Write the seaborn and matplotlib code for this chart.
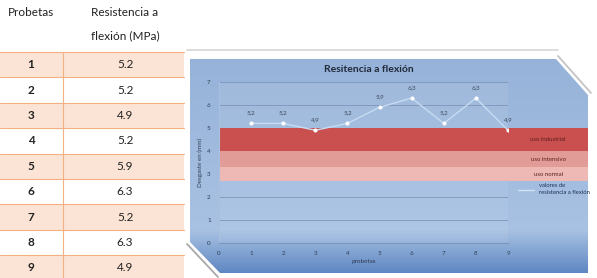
import numpy as np
import matplotlib.pyplot as plt
import seaborn as sns
from matplotlib.patches import Polygon

# datos de la tabla / grafico
probetas = [1, 2, 3, 4, 5, 6, 7, 8, 9]
resistencia = [5.2, 5.2, 4.9, 5.2, 5.9, 6.3, 5.2, 6.3, 4.9]
bandas = ["uso industrial", "uso intensivo", "uso normal"]
banda_lim = [(4.0, 5.0), (3.3, 4.0), (2.7, 3.3)]
banda_col = ["#C9504E", "#E29C97", "#EEB9B4"]

sns.set_style("white")
plt.rcParams["font.family"] = ["Lato", "DejaVu Sans"]

W, H = 597, 278
fig = plt.figure(figsize=(W / 100, H / 100), dpi=100)

def box(x0, y0, x1, y1):
    return [x0 / W, 1 - y1 / H, (x1 - x0) / W, (y1 - y0) / H]

# capa en pixeles para tabla y marco
ov = fig.add_axes([0, 0, 1, 1], zorder=0)
ov.set_xlim(0, W)
ov.set_ylim(H, 0)
ov.axis("off")

# tabla
top, rh, tw, div = 52, 25.4, 184, 63
for i, (p, r) in enumerate(zip(probetas, resistencia)):
    y0 = top + i * rh
    if i % 2 == 0:
        ov.fill_between([0, tw], y0, y0 + rh, color="#FBE4D5", lw=0)
    ov.plot([0, tw], [y0, y0], color="#F4B083", lw=0.8)
    ov.text(31, y0 + rh / 2, str(p), ha="center", va="center", fontsize=8.5,
            fontweight="bold", color="#222222")
    ov.text(125, y0 + rh / 2, f"{r:.1f}", ha="center", va="center", fontsize=8.5,
            color="#222222")
ov.plot([div, div], [top, H], color="#F4B083", lw=0.8)
ov.text(31, 12, "Probetas", ha="center", va="center", fontsize=8.5, color="#222222")
ov.text(125, 12, "Resistencia a", ha="center", va="center", fontsize=8.5, color="#222222")
ov.text(125, 36, "flexión (MPa)", ha="center", va="center", fontsize=8.5, color="#222222")

# marco del grafico con degradado
ov.plot([187, 558], [50, 50], color="#D6D6D6", lw=1.2)
frame = [(190, 59), (556, 59), (588, 95), (588, 273), (220, 273), (190, 242)]
poly = Polygon(frame, closed=True, facecolor="none", edgecolor="none")
ov.add_patch(poly)
grad = np.linspace(0, 1, 200)
c_top = np.array([0.59, 0.70, 0.85])
c_mid = np.array([0.66, 0.76, 0.89])
c_bot = np.array([0.37, 0.53, 0.76])
rows = []
for g in grad:
    if g < 0.8:
        c = c_top + (c_mid - c_top) * g / 0.8
    else:
        c = c_mid + (c_bot - c_mid) * (g - 0.8) / 0.2
    rows.append(c)
img = np.array(rows)[:, None, :].repeat(2, axis=1)
im = ov.imshow(img, extent=(190, 588, 273, 59), aspect="auto", zorder=1)
im.set_clip_path(poly)
ov.plot([558, 591], [56, 93], color="#C4C4C4", lw=1.3, zorder=2)
ov.plot([187, 218], [244, 277], color="#A8A8A8", lw=1.3, zorder=2)

# area de trazado
ax = fig.add_axes(box(219, 82, 508, 243), zorder=2)
ax.set_facecolor((1, 1, 1, 0.07))
ax.set_xlim(0, 9)
ax.set_ylim(0, 7)
ax.set_yticks(range(0, 8))
ax.set_xticks(range(0, 10))
ax.grid(axis="y", color="#7C96BA", lw=0.6)
ax.set_axisbelow(True)
for s in ["top", "right"]:
    ax.spines[s].set_visible(False)
ax.spines["left"].set_color("#A9BFDD")
ax.spines["bottom"].set_color("#7C96BA")
ax.tick_params(length=0, labelsize=4.5, colors="#2F3E55", pad=6)

xr = 1 + (588 - 508) / (508 - 219)
for (lo, hi), col in zip(banda_lim, banda_col):
    ax.axhspan(lo, hi, xmin=0, xmax=xr, color=col, lw=0, clip_on=False, zorder=1)
for name, (lo, hi) in zip(bandas, banda_lim):
    ax.text(10.25, (lo + hi) / 2, name, ha="center", va="center", fontsize=4.3,
            color="#5A1F1F", clip_on=False)

sns.lineplot(x=probetas, y=resistencia, ax=ax, color="#C8DBF2", lw=1,
             marker="o", markersize=2.2, markerfacecolor="white",
             markeredgecolor="white", zorder=3)
for p, r in zip(probetas, resistencia):
    ax.annotate(f"{r:.1f}".replace(".", ","), (p, r), xytext=(0, 6),
                textcoords="offset points", ha="center", va="bottom",
                fontsize=4.5, color="#3B4A5E", zorder=4)

ax.set_title("Resitencia a flexión", fontsize=7.5, fontweight="bold",
             color="#1F2A3A", x=0.52, pad=7)
ax.set_xlabel("probetas", fontsize=4.5, color="#2F3E55", labelpad=2)
ax.set_ylabel("Desgaste en (mm)", fontsize=4.5, color="#2F3E55", labelpad=3)

# leyenda manual
ax.plot([9.3, 9.8], [2.3, 2.3], color="#D5E3F5", lw=1, clip_on=False)
ax.text(9.95, 2.35, "valores de\nresistencia a flexión", ha="left", va="center",
        fontsize=4.2, color="#1F2F55", linespacing=1.3, clip_on=False)

fig.savefig("out.png", dpi=100)
